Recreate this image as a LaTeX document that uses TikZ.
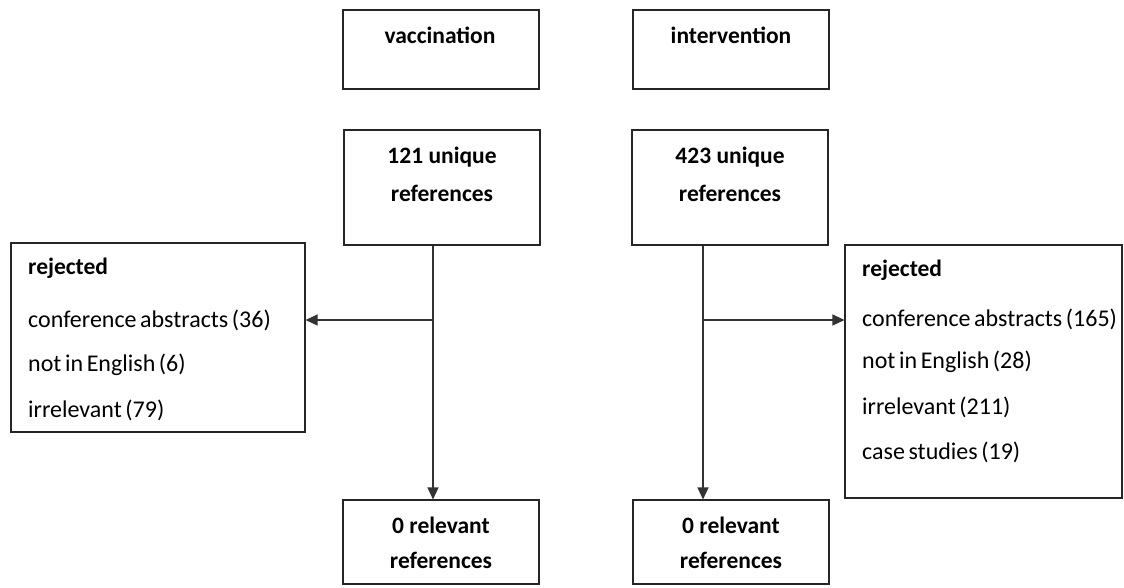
\documentclass[tikz,border=0pt]{standalone}
\usepackage{fontspec}
\setmainfont{Carlito}
\usetikzlibrary{arrows.meta}
\newcommand\itemfont{\fontsize{24}{24}\selectfont\spaceskip=0.15em\relax}
\begin{document}
\begin{tikzpicture}[x=1pt,y=-1pt,
  box/.style={draw=black!85,line width=1.1pt,rectangle},
  lbl/.style={font=\fontsize{23.5}{23.5}\selectfont\bfseries,inner sep=0pt},
  item/.style={font=\itemfont,inner sep=0pt,anchor=west},
  conn/.style={draw=black!80,line width=1.2pt},
  arr/.style={conn,-{Triangle[length=12pt,width=11pt]}}]
\useasboundingbox (0,0) rectangle (1124,587);
% top boxes
\draw[box] (343,10) rectangle (539,89); \node[lbl] (vac) at (440,35) {vaccination};
\draw[box] (633,10) rectangle (829,89); \node[lbl] (int) at (731,35) {intervention};
% unique boxes
\node[box,minimum width=196pt,minimum height=115pt] (u1) at (442,187.5) {};
\node[lbl] at (442,157) {121 unique};
\node[lbl] at (442,193) {references};
\node[box,minimum width=196pt,minimum height=115pt] (u2) at (730,187.5) {};
\node[lbl] at (730,157) {423 unique};
\node[lbl] at (730,193) {references};
% bottom boxes
\node[box,minimum width=196pt,minimum height=84pt] (b1) at (441,542) {};
\node[lbl] at (441,525) {0 relevant};
\node[lbl] at (441,560) {references};
\node[box,minimum width=196pt,minimum height=84pt] (b2) at (731,542) {};
\node[lbl] at (731,525) {0 relevant};
\node[lbl] at (731,560) {references};
% rejected boxes
\node[box,minimum width=294pt,minimum height=189pt] (r1) at (158,337.5) {};
\node[lbl,anchor=west] at (28,268) {rejected};
\node[item] at (28,320) {conference abstracts (36)};
\node[item] at (28,365) {not in English (6)};
\node[item] at (28,410) {irrelevant (79)};
\node[box,minimum width=277pt,minimum height=253pt] (r2) at (983.5,371.5) {};
\node[lbl,anchor=west] at (862,270) {rejected};
\node[item] at (862,319) {conference abstracts (165)};
\node[item] at (862,362) {not in English (28)};
\node[item] at (862,407) {irrelevant (211)};
\node[item] at (862,452) {case studies (19)};
% connectors
\coordinate (j1) at (433,320);
\coordinate (j2) at (703,320);
\draw[arr] (u1.south -| j1) -- (b1.north -| j1);
\draw[arr] (j1) -- (r1.east |- j1);
\draw[arr] (u2.south -| j2) -- (b2.north -| j2);
\draw[arr] (j2) -- (r2.west |- j2);
\end{tikzpicture}
\end{document}
